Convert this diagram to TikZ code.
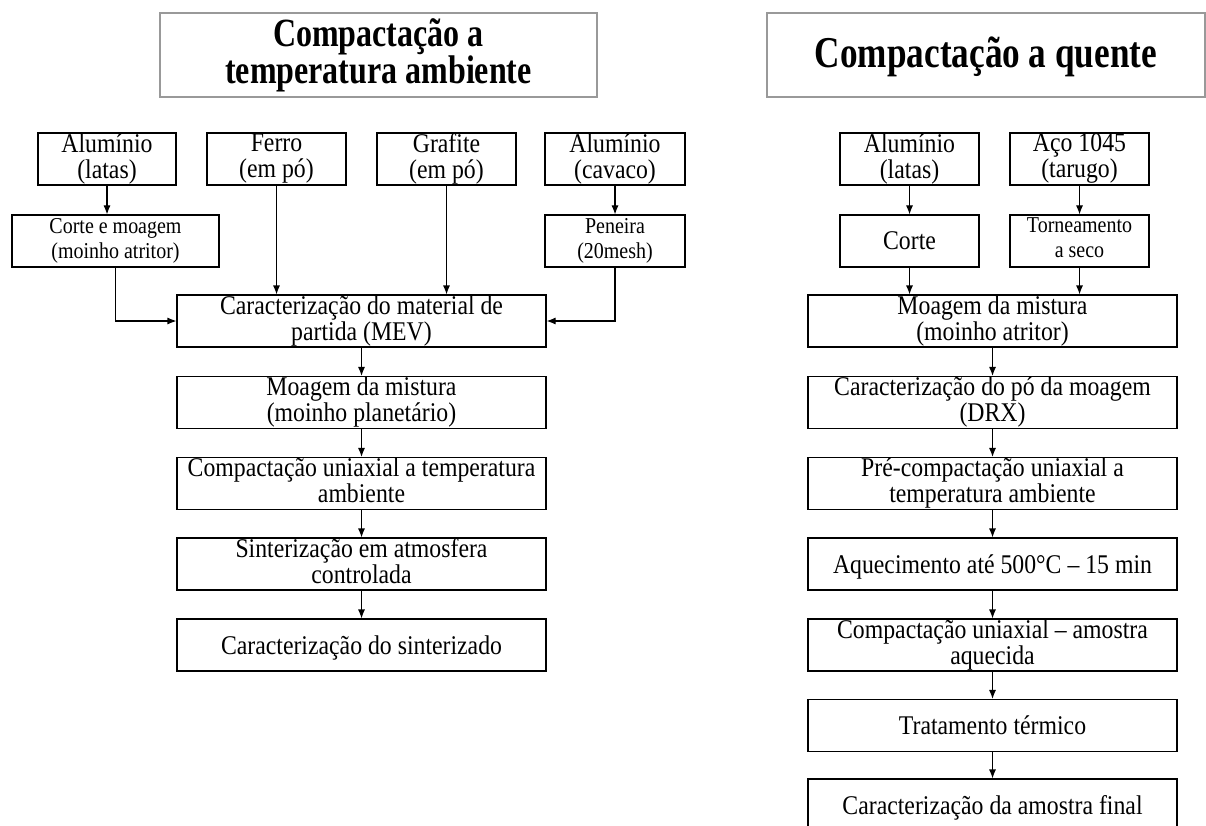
\documentclass[tikz,border=0pt]{standalone}
\usepackage{fontspec}
\setmainfont{Liberation Serif}[FakeStretch=0.88]
\newfontfamily\titlefont[FakeStretch=0.8]{Liberation Serif}
\usetikzlibrary{arrows.meta}

\tikzset{
  etapa/.style={draw, line width=1.1pt, align=center, inner sep=0pt,
    minimum height=52pt, font=\fontsize{27}{26}\selectfont,
    execute at begin node={\rule{0pt}{24pt}},
    execute at end node={\rule[-6pt]{0pt}{6pt}}},
  etapamenor/.style={etapa, font=\fontsize{22.7}{25}\selectfont,
    execute at begin node={\rule{0pt}{19pt}}},
  titulo/.style={draw=gray!80, line width=1.2pt, align=center, inner sep=0pt,
    minimum height=84pt,
    execute at begin node={\rule{0pt}{34pt}},
    execute at end node={\rule[-8pt]{0pt}{8pt}}},
  seta/.style={-{Latex[length=9pt,width=7pt]}, line width=1.1pt}
}

\begin{document}
\begin{tikzpicture}[x=1pt,y=-1pt]
\useasboundingbox (0,0) rectangle (1206,826);
% temperatura ambiente
\node[titulo, minimum width=437pt, font=\titlefont\bfseries\fontsize{40}{30}\selectfont]
  (titA) at (378.5,55) {Compactação a\\temperatura ambiente};
\node[etapa, minimum width=138pt] (aluA) at (107,159) {Alumínio\\(latas)};
\node[etapa, minimum width=139pt] (ferro) at (276.5,159) {Ferro\\(em pó)};
\node[etapa, minimum width=139pt] (grafite) at (446.5,159) {Grafite\\(em pó)};
\node[etapa, minimum width=140pt] (cavaco) at (615,159) {Alumínio\\(cavaco)};
\node[etapamenor, minimum width=207pt] (corteA) at (115.5,241) {Corte e moagem\\(moinho atritor)};
\node[etapamenor, minimum width=140pt] (peneira) at (615,241) {Peneira\\(20mesh)};
\node[etapa, minimum width=369pt] (mevA) at (361.5,321) {Caracterização do material de\\partida (MEV)};
\node[etapa, minimum width=369pt] (moagA) at (361.5,402.5) {Moagem da mistura\\(moinho planetário)};
\node[etapa, minimum width=369pt] (compA) at (361.5,483.5) {Compactação uniaxial a temperatura\\ambiente};
\node[etapa, minimum width=369pt] (sinter) at (361.5,564) {Sinterização em atmosfera\\controlada};
\node[etapa, minimum width=369pt] (caracA) at (361.5,645) {Caracterização do sinterizado};

\draw[seta] (aluA) -- (aluA |- corteA.north);
\draw[seta] (cavaco) -- (peneira);
\draw[seta] (ferro) -- (ferro |- mevA.north);
\draw[seta] (grafite) -- (grafite |- mevA.north);
\draw[seta] (corteA) |- (mevA);
\draw[seta] (peneira) |- (mevA);
\foreach \a/\b in {mevA/moagA, moagA/compA, compA/sinter, sinter/caracA}
  \draw[seta] (\a) -- (\b);

% a quente
\node[titulo, minimum width=438pt, font=\titlefont\bfseries\fontsize{44}{30}\selectfont]
  (titB) at (986,55) {Compactação a quente};
\node[etapa, minimum width=139pt] (aluB) at (909.5,159) {Alumínio\\(latas)};
\node[etapa, minimum width=139pt] (aco) at (1079.5,159) {Aço 1045\\(tarugo)};
\node[etapa, minimum width=139pt] (corteB) at (909.5,241) {Corte};
\node[etapamenor, minimum width=139pt] (torno) at (1079.5,241) {Torneamento\\a seco};
\node[etapa, minimum width=369pt] (moagB) at (992.5,321) {Moagem da mistura\\(moinho atritor)};
\node[etapa, minimum width=369pt] (drx) at (992.5,402.5) {Caracterização do pó da moagem\\(DRX)};
\node[etapa, minimum width=369pt] (precomp) at (992.5,483.5) {Pré-compactação uniaxial a\\temperatura ambiente};
\node[etapa, minimum width=369pt] (aquec) at (992.5,564) {Aquecimento até 500°C – 15 min};
\node[etapa, minimum width=369pt] (compB) at (992.5,645) {Compactação uniaxial – amostra\\aquecida};
\node[etapa, minimum width=369pt] (trat) at (992.5,725.5) {Tratamento térmico};
\node[etapa, minimum width=369pt] (final) at (992.5,805) {Caracterização da amostra final};

\draw[seta] (aluB) -- (corteB);
\draw[seta] (aco) -- (torno);
\draw[seta] (corteB) -- (corteB |- moagB.north);
\draw[seta] (torno) -- (torno |- moagB.north);
\foreach \a/\b in {moagB/drx, drx/precomp, precomp/aquec, aquec/compB, compB/trat, trat/final}
  \draw[seta] (\a) -- (\b);
\end{tikzpicture}
\end{document}
